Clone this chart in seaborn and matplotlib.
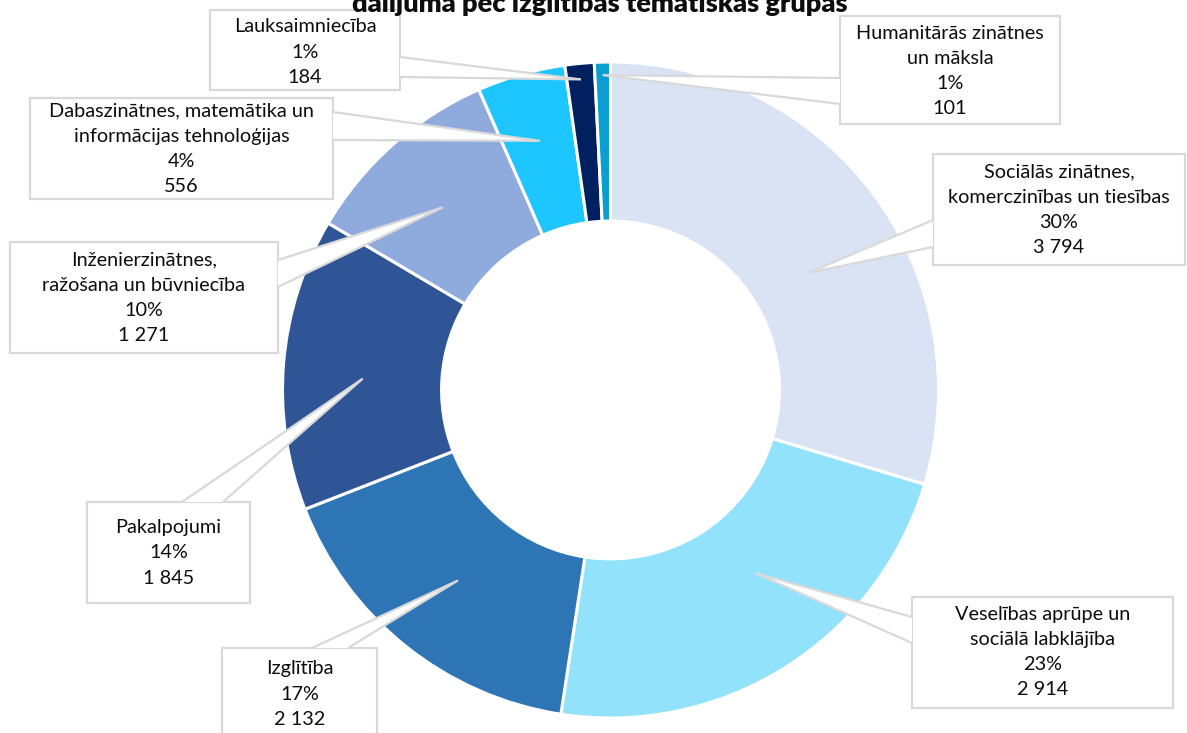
import matplotlib
matplotlib.use("Agg")
import matplotlib.pyplot as plt
import seaborn as sns
import numpy as np
from matplotlib.patches import Rectangle, Polygon

# ---- data ----
categories = [
    "Sociālās zinātnes,\nkomerczinības un tiesības",
    "Veselības aprūpe un\nsociālā labklājība",
    "Izglītība",
    "Pakalpojumi",
    "Inženierzinātnes,\nražošana un būvniecība",
    "Dabaszinātnes, matemātika un\ninformācijas tehnoloģijas",
    "Lauksaimniecība",
    "Humanitārās zinātnes\nun māksla",
]
values = [3794, 2914, 2132, 1845, 1271, 556, 184, 101]
value_labels = ["3 794", "2 914", "2 132", "1 845", "1 271", "556", "184", "101"]
percent_labels = ["30%", "23%", "17%", "14%", "10%", "4%", "1%", "1%"]
colors = ["#DAE3F3", "#92E2FC", "#2E75B6", "#2F5597", "#8FAADC", "#1EC6FF", "#002060", "#0A9FD0"]
title = "dalījumā pēc izglītības tematiskās grupās"

sns.set_theme(style="white")
plt.rcParams['font.family'] = ['Lato', 'DejaVu Sans']

W, H = 1187, 733
fig = plt.figure(figsize=(W / 100, H / 100), dpi=100)
ax = fig.add_axes([0, 0, 1, 1])
ax.set_xlim(0, W)
ax.set_ylim(0, H)
ax.set_aspect('equal')
ax.axis('off')

def Y(py):
    return H - py

cx, cy, R = 610.5, Y(390), 328
palette = sns.color_palette(colors)
wedges, _ = ax.pie(values, colors=palette, startangle=90, counterclock=False,
                   center=(cx, cy), radius=R, frame=True,
                   wedgeprops=dict(width=R * 0.485, edgecolor='white', linewidth=2.2))
ax.set_xlim(0, W)
ax.set_ylim(0, H)
ax.axis('off')

# layout of callouts: box (x0, y0, x1, y1) in pixels, base points, tip radius, angle nudge, text centre y
layout = [
    dict(box=(933, 154, 1185, 265), base=((933, 220), (933, 247)), r=230, dth=6, ty=210),
    dict(box=(912, 597, 1173, 708), base=((912, 617), (912, 643)), r=233, dth=-6, ty=652),
    dict(box=(222, 648, 377, 760), base=((312, 648), (348, 648)), r=244, dth=0, ty=694),
    dict(box=(87, 502, 250, 603), base=((182, 502), (223, 502)), r=248, dth=-2, ty=553),
    dict(box=(10, 242, 278, 353), base=((278, 260), (278, 287)), r=248, dth=-1, ty=298),
    dict(box=(30, 98, 333, 199), base=((333, 112), (333, 140)), r=259, dth=0, ty=149),
    dict(box=(210, 10, 400, 90), base=((400, 57), (400, 77)), r=312, dth=0, ty=52),
    dict(box=(840, 16, 1060, 124), base=((840, 78), (840, 104)), r=315, dth=0, ty=71),
]

edge_col = "#D9D9D9"
total = sum(values)
cum = 0.0
for i, (cat, v) in enumerate(zip(categories, values)):
    mid = (cum + v / 2) / total * 360.0
    cum += v
    L = layout[i]
    th = np.deg2rad(mid + L['dth'])
    tip = (cx + L['r'] * np.sin(th), cy + L['r'] * np.cos(th))
    x0, y0, x1, y1 = L['box']
    ax.add_patch(Rectangle((x0, Y(y1)), x1 - x0, y1 - y0, facecolor='white',
                           edgecolor=edge_col, linewidth=1.6, zorder=5))
    b1, b2 = L['base']
    pts = [(b1[0], Y(b1[1])), tip, (b2[0], Y(b2[1]))]
    ax.add_patch(Polygon(pts, closed=True, facecolor='white', edgecolor='none', zorder=6))
    ax.plot([p[0] for p in pts], [p[1] for p in pts], color=edge_col, lw=1.6,
            zorder=7, solid_joinstyle='miter', solid_capstyle='butt')
    txt = f"{cat}\n{percent_labels[i]}\n{value_labels[i]}"
    ax.text((x0 + x1) / 2, Y(L['ty']), txt, ha='center', va='center', fontsize=14.3,
            linespacing=1.58, color='#0D0D0D', zorder=8)

fig.text(600 / W, 1 - 12 / H, title, ha='center', va='baseline', fontsize=19.5,
         fontweight='heavy', color='#0D0D0D')

fig.savefig("out.png", dpi=100)
